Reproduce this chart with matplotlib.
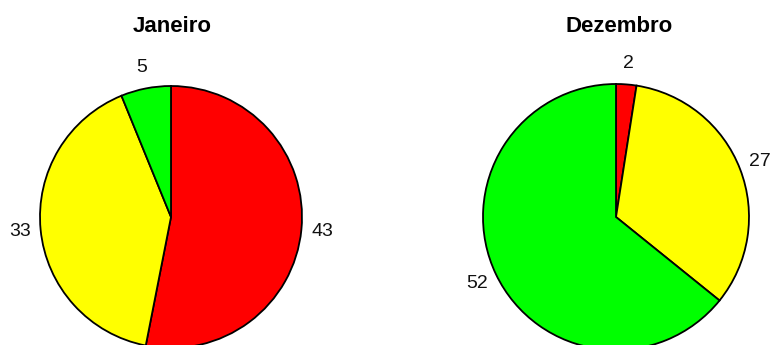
import numpy as np
import matplotlib
matplotlib.use("Agg")
import matplotlib.pyplot as plt

plt.rcParams['font.family'] = ['Liberation Sans', 'DejaVu Sans']

# data
titles = ['Janeiro', 'Dezembro']
jan_values = [43, 33, 5]
jan_colors = ['#ff0000', '#ffff00', '#00ff00']
dez_values = [2, 27, 52]
dez_colors = ['#ff0000', '#ffff00', '#00ff00']

W, H = 771, 345
fig = plt.figure(figsize=(W / 100, H / 100), dpi=100)

# pixel centres / radii of the two pies
pies = [
    (jan_values, jan_colors, 171, 217, 131, 172),
    (dez_values, dez_colors, 616, 217, 133, 619),
]

for (vals, cols, cx, cy, r, tx), title in zip(pies, titles):
    ax = fig.add_axes([(cx - r) / W, (H - cy - r) / H, 2 * r / W, 2 * r / H])
    wedges, texts = ax.pie(vals, colors=cols, labels=[str(v) for v in vals],
                           startangle=90, counterclock=False, radius=1,
                           labeldistance=1.16,
                           wedgeprops=dict(edgecolor='black', linewidth=1.3),
                           textprops=dict(fontsize=14, color='#111111'))
    for t in texts:
        t.set_ha('center')
        t.set_va('center')
    ax.set_xlim(-1, 1)
    ax.set_ylim(-1, 1)
    ax.axis('off')
    fig.text(tx / W, 1 - 32 / H, title, ha='center', va='baseline',
             fontsize=16, fontweight='bold')

fig.savefig('out.png', dpi=100)
